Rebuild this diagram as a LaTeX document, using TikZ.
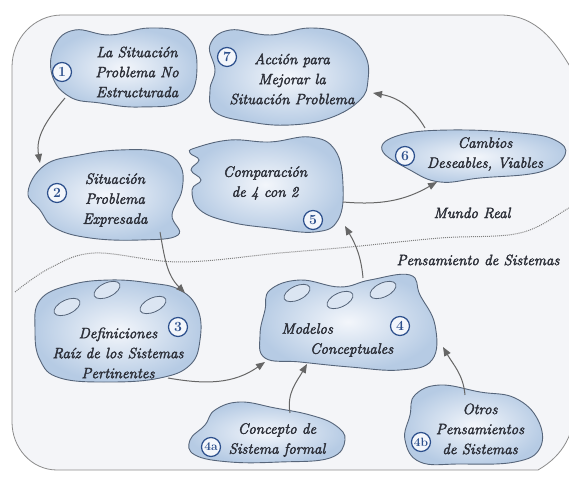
\documentclass[tikz,border=0pt]{standalone}
\usepackage{fontspec}
\usepackage{tikz}
\usetikzlibrary{arrows.meta,positioning,calc}
\newfontfamily\letrafont{Latin Modern Roman}[FakeBold=2.5]
\definecolor{borde}{HTML}{56657A}
\definecolor{nubeclara}{HTML}{F3F6FB}
\definecolor{nubeoscura}{HTML}{B6CBE4}
\definecolor{letra}{HTML}{2C2F38}
\definecolor{numazul}{HTML}{2C4F8C}
\definecolor{flecha}{HTML}{666666}
\definecolor{fondo}{HTML}{F4F5F8}
\tikzset{
  nube/.style={draw=borde, line width=0.9pt, inner color=nubeclara, outer color=nubeoscura},
  ovalito/.style={draw=borde, line width=0.8pt, fill=nubeclara!60!nubeoscura},
  texto/.style={text=letra, font=\letrafont\fontsize{15}{20}\selectfont\itshape, align=center},
  numero/.style={circle, draw=numazul, line width=1.2pt, fill=nubeclara, text=numazul,
    font=\fontsize{14}{14}\selectfont\bfseries, inner sep=0.5pt, minimum size=19pt},
  conector/.style={draw=flecha, line width=1pt, -{Triangle[length=9pt,width=7pt]}},
  marco/.style={draw=gray!90, line width=0.8pt, fill=fondo}
}
\begin{document}
\begin{tikzpicture}[x=1pt,y=1pt]
\begin{scope}
\clip (0,0) rectangle (569,478);
\fill[white] (0,0) rectangle (569,478);
\draw[marco] (12,411) to[out=90,in=180] (62,463) -- (500,463) to[out=0,in=120] (575,403)
  -- (575,75) to[out=-90,in=30] (538,8) -- (57,8) to[out=180,in=-90] (12,56) -- cycle;
% frontera
\draw[gray, densely dotted, line width=1pt] plot[smooth, tension=0.6] coordinates
  {(15,186) (50,210) (95,225) (180,216) (280,225) (350,231) (440,240) (520,245) (569,270) (580,276)};
\node[texto] (real) at (472,265) {Mundo Real};
\node[texto] (pensar) at (478,218) {Pensamiento de Sistemas};

% nubes
\path[nube] plot[smooth cycle, tension=0.7] coordinates
  {(55,433) (75,448) (110,443) (150,450) (185,443) (197,413) (185,378) (140,371) (100,375) (70,381) (52,403)};
\path[nube] plot[smooth cycle, tension=0.7] coordinates
  {(210,433) (230,448) (270,443) (310,450) (345,443) (365,423) (368,398) (360,378) (330,360) (290,353) (250,356) (215,366) (210,388) (215,408)};
\path[nube] plot[smooth cycle, tension=0.7] coordinates
  {(400,343) (450,348) (520,345) (555,338) (565,323) (540,306) (480,300) (440,296) (410,308) (382,328)};
\path[nube] plot[smooth cycle, tension=0.7] coordinates
  {(195,330) (230,338) (270,336) (310,341) (335,328) (343,293) (338,258) (315,246) (270,250) (230,256) (200,268) (192,288) (201,298) (191,308) (199,318) (190,325)};
\path[nube] plot[smooth cycle, tension=0.7] coordinates
  {(28,286) (45,313) (80,323) (120,328) (160,326) (180,313) (182,288) (172,263) (178,243) (140,238) (90,240) (55,250) (40,268)};
\path[nube] plot[smooth cycle, tension=0.7] coordinates
  {(40,178) (70,193) (110,198) (150,195) (180,188) (198,168) (200,138) (190,113) (160,100) (110,96) (60,100) (40,118) (35,148)};
\path[nube] plot[smooth cycle, tension=0.7] coordinates
  {(270,188) (300,198) (340,191) (370,198) (410,203) (420,183) (435,153) (432,118) (400,108) (350,111) (300,116) (265,120) (260,143) (265,168)};
\path[nube] plot[smooth cycle, tension=0.7] coordinates
  {(215,68) (240,76) (275,70) (310,63) (335,53) (345,38) (330,20) (280,16) (230,16) (195,23) (190,38) (205,53)};
\path[nube] plot[smooth cycle, tension=0.7] coordinates
  {(415,83) (440,93) (480,86) (515,80) (538,58) (540,30) (515,16) (460,14) (420,16) (405,38) (410,63)};

\foreach \x/\y in {67/171, 107/188, 153/173, 297/185, 340/178, 383/188}
  \draw[ovalito, rotate around={25:(\x,\y)}] (\x,\y) ellipse [x radius=14pt, y radius=7pt];

% textos
\node[texto] (sit1) at (137,406) {La Situación\\Problema No\\Estructurada};
\node[texto] (accion7) at (292,399) {Acción para\\Mejorar la\\Situación Problema};
\node[texto] (cambios6) at (485,324) {Cambios\\Deseables, Viables};
\node[texto] (compara5) at (265,295) {Comparación\\de 4 con 2};
\node[texto] (sit2) at (115,278) {Situación\\Problema\\Expresada};
\node[texto] (raiz3) at (118,125) {Definiciones\\Raíz de los Sistemas\\Pertinentes};
\node[texto, align=left, anchor=west] (modelos4) at (278,138) {Modelos\\\hspace{1.9em}Conceptuales};
\node[texto] (concepto4a) at (277,38) {Concepto de\\Sistema formal};
\node[texto] (otros4b) at (480,49) {Otros\\Pensamientos\\de Sistemas};

\node[numero] (n1) at (62,406) {1};
\node[numero] (n7) at (227,421) {7};
\node[numero] (n6) at (405,322) {6};
\node[numero] (n5) at (313,258) {5};
\node[numero] (n2) at (57,285) {2};
\node[numero] (n3) at (178,151) {3};
\node[numero] (n4) at (400,152) {4};
\node[numero, font=\fontsize{12}{12}\selectfont\bfseries] (n4a) at (211,31) {4a};
\node[numero, font=\fontsize{12}{12}\selectfont\bfseries] (n4b) at (421,36) {4b};

% conectores
\coordinate (s1) at (65,380);   \coordinate (e2) at (40,315);
\coordinate (s2) at (160,246);  \coordinate (e3) at (185,185);
\coordinate (s3) at (168,100);  \coordinate (e4) at (265,116);
\coordinate (s4a) at (290,65);  \coordinate (e4a) at (307,114);
\coordinate (s4b) at (465,83);  \coordinate (e4b) at (443,131);
\coordinate (s4) at (363,200);  \coordinate (e5) at (345,252);
\coordinate (s5) at (343,276);  \coordinate (e6) at (437,296);
\coordinate (s6) at (425,350);  \coordinate (e7) at (373,385);
\draw[conector] (s1) to[out=230,in=100] (e2);
\draw[conector] (s2) to[out=-80,in=135] (e3);
\draw[conector] (s3) to[out=-10,in=215] (e4);
\draw[conector] (s4a) to[out=100,in=-120] (e4a);
\draw[conector] (s4b) to[out=95,in=-60] (e4b);
\draw[conector] (s4) to[out=95,in=-60] (e5);
\draw[conector] (s5) to[out=-5,in=210] (e6);
\draw[conector] (s6) to[out=120,in=-10] (e7);
\end{scope}
\end{tikzpicture}
\end{document}
